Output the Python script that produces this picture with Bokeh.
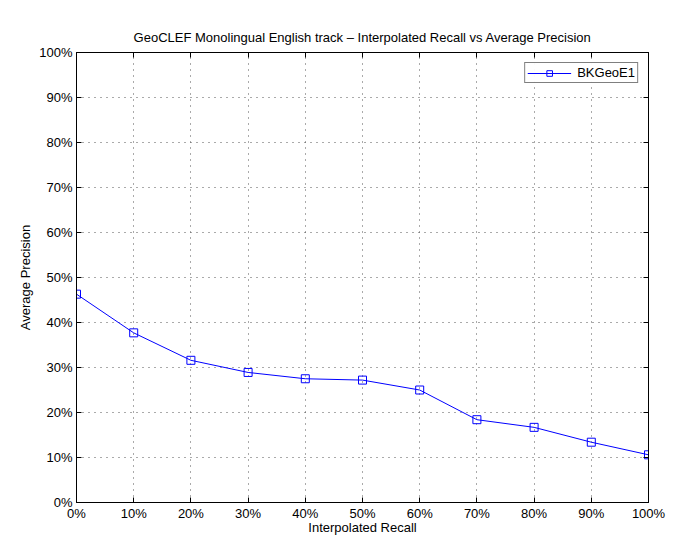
from bokeh.plotting import figure
from bokeh.models import (Range1d, FixedTicker, PrintfTickFormatter, LinearAxis,
                          Legend, LegendItem)
from bokeh.embed import file_html
from bokeh.resources import INLINE

# Data
recall = [0, 10, 20, 30, 40, 50, 60, 70, 80, 90, 100]
precision = [46.3, 37.7, 31.6, 28.9, 27.5, 27.2, 25.0, 18.4, 16.7, 13.4, 10.6]
series_name = "BKGeoE1"
ticks = [0, 10, 20, 30, 40, 50, 60, 70, 80, 90, 100]

FONT = "Liberation Sans"
FS = "13px"

p = figure(frame_width=572, frame_height=450, output_backend="svg", toolbar_location=None,
           x_range=Range1d(0, 100), y_range=Range1d(0, 100),
           min_border_left=76, min_border_right=27, min_border_top=52,
           min_border_bottom=34,
           title="GeoCLEF Monolingual English track \u2013 Interpolated Recall vs Average Precision")

p.title.align = "center"
p.title.text_font = FONT
p.title.text_font_size = FS
p.title.text_font_style = "normal"
p.title.text_color = "black"
p.title.offset = 0
p.title.standoff = 10
p.title.padding = 3

p.outline_line_color = "black"
p.outline_line_width = 1
p.background_fill_color = "white"
p.border_fill_color = "white"

for ax in (p.xaxis[0], p.yaxis[0]):
    ax.ticker = FixedTicker(ticks=ticks)
    ax.formatter = PrintfTickFormatter(format="%d%%")
    ax.major_label_text_font = FONT
    ax.major_label_text_font_size = FS
    ax.major_label_text_color = "black"
    ax.axis_label_text_font = FONT
    ax.axis_label_text_font_size = FS
    ax.axis_label_text_font_style = "normal"
    ax.axis_label_text_color = "black"
    ax.axis_line_color = "black"
    ax.major_tick_line_color = "black"
    ax.major_tick_in = 5
    ax.major_tick_out = 0
    ax.minor_tick_line_color = None

p.xaxis.axis_label = "Interpolated Recall"
p.yaxis.axis_label = "Average Precision"
p.xaxis.major_label_standoff = 3
p.xaxis.axis_label_standoff = -4
p.yaxis.major_label_standoff = 4
p.yaxis.axis_label_standoff = 3

for loc in ("right", "above"):
    a = LinearAxis(ticker=FixedTicker(ticks=ticks), major_label_text_color=None,
                   major_tick_in=5, major_tick_out=0, minor_tick_line_color=None,
                   axis_line_color="black", major_tick_line_color="black",
                   major_label_standoff=0)
    p.add_layout(a, loc)

for g in (p.xgrid[0], p.ygrid[0]):
    g.ticker = FixedTicker(ticks=ticks)
    g.grid_line_color = "#555555"
    g.grid_line_dash = "1 5"
    g.grid_line_width = 1

ln = p.line(recall, precision, line_color="#0000ff", line_width=1)
mk = p.scatter(recall, precision, marker="square", size=8, fill_color=None,
               line_color="#0000ff", line_width=1)

legend = Legend(items=[LegendItem(label=series_name, renderers=[ln, mk])],
                location="top_right")
legend.label_text_font = FONT
legend.label_text_font_size = FS
legend.label_text_color = "black"
legend.border_line_color = "black"
legend.border_line_width = 1
legend.glyph_width = 44
legend.glyph_height = 14
legend.label_standoff = 6
legend.padding = 2
legend.margin = 10
legend.label_height = 14
p.add_layout(legend)

open("out.html", "w").write(file_html(p, INLINE))
